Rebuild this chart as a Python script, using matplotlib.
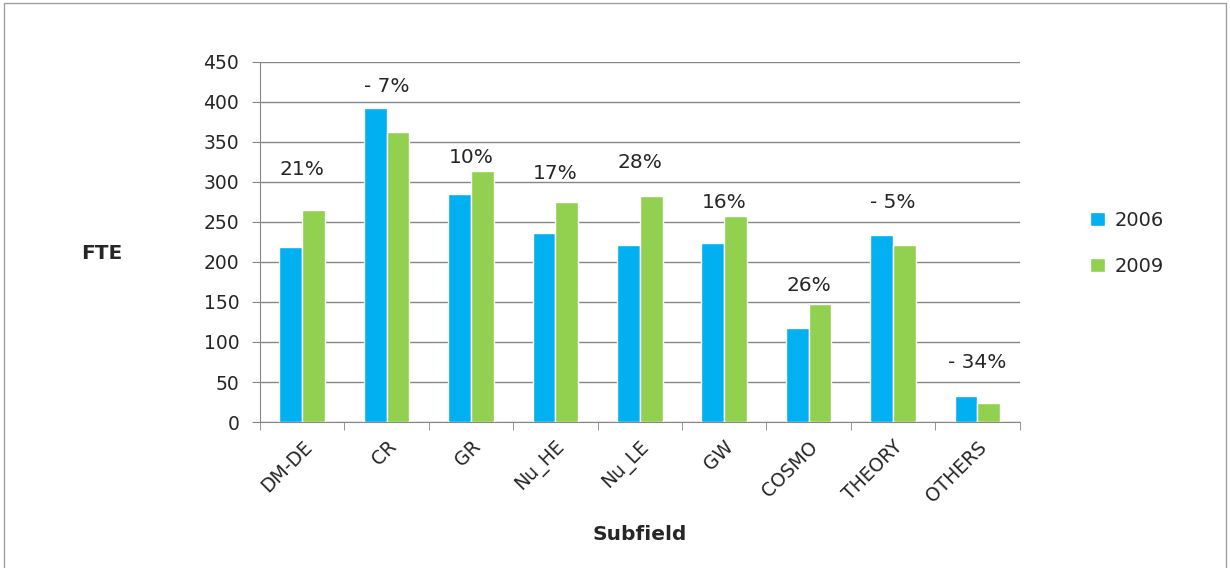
import numpy as np
from matplotlib import pyplot as plt
from matplotlib.patches import Rectangle

# datos
subfields = ["DM-DE", "CR", "GR", "Nu_HE", "Nu_LE", "GW", "COSMO", "THEORY", "OTHERS"]
fte_2006 = [219, 392, 285, 236, 221, 224, 117, 234, 33]
fte_2009 = [265, 363, 314, 275, 282, 258, 148, 221, 24]
changes = ["21%", "- 7%", "10%", "17%", "28%", "16%", "26%", "- 5%", "- 34%"]
label_offsets = [50, 27, 17, 36, 42, 16, 22, 40, 42]

blue = "#00B0F0"
green = "#92D050"
grid_gray = "#868686"
text_col = "#262626"

fig = plt.figure(figsize=(12.3, 5.68), dpi=100)
ax = fig.add_axes([0.2114, 0.257, 0.6175, 0.634])

x = np.arange(len(subfields))
w = 0.27
ax.bar(x - w / 2, fte_2006, w, color=blue, edgecolor="white", linewidth=1, label="2006", zorder=3)
ax.bar(x + w / 2, fte_2009, w, color=green, edgecolor="white", linewidth=1, label="2009", zorder=3)

for i, txt in enumerate(changes):
    top = max(fte_2006[i], fte_2009[i])
    ax.text(x[i], top + label_offsets[i], txt, ha="center", va="center",
            fontsize=14.5, color=text_col)

ax.set_xlim(-0.5, len(subfields) - 0.5)
ax.set_ylim(0, 450)
ax.set_yticks(range(0, 451, 50))
ax.yaxis.grid(True, color=grid_gray, linewidth=1)
ax.set_axisbelow(True)

ax.set_xticks(x)
ax.set_xticklabels(subfields, rotation=45, ha="right", rotation_mode="anchor",
                   fontsize=13.5, color=text_col)
ax.set_xticks(np.arange(-0.5, len(subfields)), minor=True)
ax.tick_params(axis="x", which="major", length=0, pad=11)
ax.tick_params(axis="x", which="minor", length=6, color=grid_gray)
ax.tick_params(axis="y", length=6, pad=9, color=grid_gray, labelsize=13.5, labelcolor=text_col)

for s in ["top", "right"]:
    ax.spines[s].set_visible(False)
for s in ["left", "bottom"]:
    ax.spines[s].set_color(grid_gray)

ax.set_xlabel("Subfield", fontsize=14.5, fontweight="bold", labelpad=14, color=text_col)
fig.text(0.083, 0.553, "FTE", fontsize=14.5, fontweight="bold", ha="center", va="center",
         color=text_col)

ax.legend(loc="center left", bbox_to_anchor=(1.07, 0.496), frameon=False,
          fontsize=14, handlelength=0.75, handleheight=0.75, labelspacing=1.4,
          handletextpad=0.5, labelcolor=text_col)

fig.patches.append(Rectangle((0.003, -0.01), 0.994, 1.004, transform=fig.transFigure,
                             fill=False, edgecolor="#A0A0A0", linewidth=1))

plt.savefig("out.png", dpi=100)
